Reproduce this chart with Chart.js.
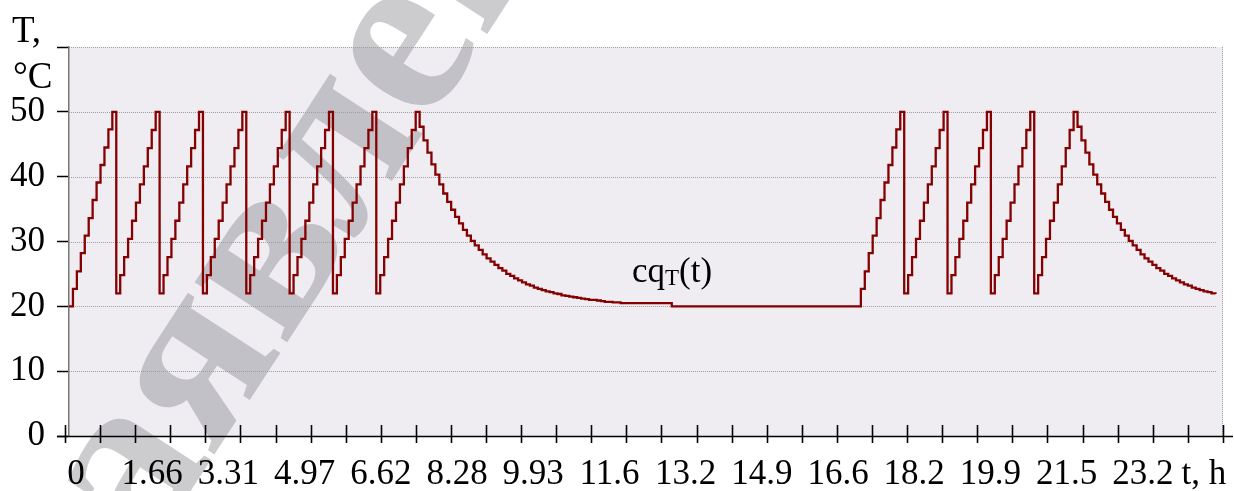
<!DOCTYPE html>
<html><head><meta charset="utf-8">
<script src="https://cdn.jsdelivr.net/npm/chart.js@4/dist/chart.umd.min.js"></script>
<style>html,body{margin:0;padding:0;background:#fff;overflow:hidden}</style>
</head><body>
<canvas id="c" width="1234" height="491"></canvas>
<script>
// ---- data ----
const STEP_H = 5 / 60;          // sample period, hours
const X_MAX_H = 24.41;          // right end of the time axis, hours
const xTickLabels = ['0','1.66','3.31','4.97','6.62','8.28','9.93','11.6','13.2','14.9','16.6','18.2','19.9','21.5','23.2'];
const xAxisName = 't, h';
const yTicks = [0, 10, 20, 30, 40, 50, 60];
const curveLabel = ['cq', 'T', '(t)'];
const WATERMARK = 'Заявление';

const firstRiseA = [20, 22.7, 25.4, 28.2, 30.9, 33.6, 36.4, 39.1, 41.8, 44.5, 47.3, 50];
const sawCycle   = [22, 24.8, 27.6, 30.4, 33.2, 36.0, 38.8, 41.6, 44.4, 47.2, 50];
const lastRise   = [22, 24.8, 27.6, 30.4, 33.2, 36.0, 38.8, 41.6, 44.4, 47.2];
const decayA = [50, 47.7, 45.6, 43.7, 41.9, 40.3, 38.8, 37.4, 36.1, 34.9,
  33.8, 32.8, 31.8, 30.9, 30.1, 29.4, 28.7, 28.0, 27.4, 26.9,
  26.4, 25.9, 25.5, 25.0, 24.7, 24.3, 24.0, 23.7, 23.4, 23.2,
  22.9, 22.7, 22.5, 22.3, 22.2, 22.0, 21.9, 21.7, 21.6, 21.5,
  21.4, 21.3, 21.2, 21.1, 21.0, 21.0, 20.9, 20.8, 20.7, 20.7,
  20.6, 20.6, 20.5, 20.5, 20.5, 20.5, 20.5, 20.5, 20.5, 20.5,
  20.5, 20.5, 20.5, 20.5, 20.5, 20.0];
const flatNight = [20, 20, 20, 20, 20, 20, 20, 20, 20, 20,
  20, 20, 20, 20, 20, 20, 20, 20, 20, 20,
  20, 20, 20, 20, 20, 20, 20, 20, 20, 20,
  20, 20, 20, 20, 20, 20, 20, 20, 20, 20,
  20, 20, 20, 20, 20, 20];
const firstRiseB = [20, 22.7, 25.4, 28.2, 30.9, 33.6, 36.4, 39.1, 41.8, 44.5, 47.3, 50];
const decayB = [50, 47.7, 45.6, 43.7, 41.9, 40.3, 38.8, 37.4, 36.1, 34.9,
  33.8, 32.8, 31.8, 30.9, 30.1, 29.4, 28.7, 28.0, 27.4, 26.9,
  26.4, 25.9, 25.5, 25.0, 24.7, 24.3, 24.0, 23.7, 23.4, 23.2,
  22.9, 22.7, 22.5, 22.3, 22.2, 22.0, 21.9];

const tempC = [].concat(
  firstRiseA, sawCycle, sawCycle, sawCycle, sawCycle, sawCycle, sawCycle,
  lastRise, decayA, flatNight,
  firstRiseB, sawCycle, sawCycle, sawCycle, lastRise, decayB
);
const points = tempC.map((v, i) => ({ x: i * STEP_H, y: v }));

// ---- axis geometry constants ----
const TICK_START_H = -0.085, TICK_STEP_H = 0.7422, TICK_COUNT = 34;
const LABEL_MIN = -0.0919, LABEL_MAX = 15.052, NAME_POS = 14.8;

const SERIF = '"Liberation Serif", "Times New Roman", serif';

const decor = {
  id: 'decor',
  beforeDraw(chart) {
    const { ctx, chartArea: a } = chart;
    ctx.save();
    ctx.fillStyle = '#ffffff';
    ctx.fillRect(0, 0, chart.width, chart.height);
    ctx.fillStyle = '#EFEDF2';
    ctx.fillRect(a.left, a.top, a.right - a.left, a.bottom - a.top);
    // watermark
    ctx.save();
    const fs = 240;
    ctx.font = 'bold ' + fs + 'px ' + SERIF;
    ctx.fillStyle = 'rgba(120,120,128,0.38)';
    ctx.translate(202, 372);
    ctx.rotate(-57 * Math.PI / 180);
    const pre = ctx.measureText('За').width, ya = ctx.measureText('я').width;
    ctx.textBaseline = 'alphabetic';
    ctx.fillText(WATERMARK, -(pre + ya / 2), 0.23 * fs);
    ctx.restore();
    // dotted grid
    const ys = chart.scales.y;
    ctx.strokeStyle = '#a0a0a0';
    ctx.lineWidth = 1;
    ctx.setLineDash([1, 1]);
    ys.ticks.forEach(t => {
      if (t.value <= 0) return;
      const y = Math.round(ys.getPixelForValue(t.value)) + 0.5;
      ctx.beginPath(); ctx.moveTo(a.left, y); ctx.lineTo(a.right - 6, y); ctx.stroke();
    });
    ctx.beginPath(); ctx.moveTo(a.right - 0.5, a.top); ctx.lineTo(a.right - 0.5, a.bottom); ctx.stroke();
    ctx.restore();
  },
  afterDraw(chart) {
    const { ctx, chartArea: a } = chart;
    const xs = chart.scales.x;
    ctx.save();
    ctx.strokeStyle = '#000';
    ctx.lineWidth = 1.6;
    const yb = a.bottom + 0.5;
    ctx.beginPath(); ctx.moveTo(57, yb); ctx.lineTo(1233, yb); ctx.stroke();
    for (let k = 0; k < TICK_COUNT; k++) {
      const px = Math.round(xs.getPixelForValue(TICK_START_H + k * TICK_STEP_H)) + 0.5;
      ctx.beginPath(); ctx.moveTo(px, a.bottom - 11); ctx.lineTo(px, a.bottom + 7); ctx.stroke();
    }
    ctx.fillStyle = '#000';
    ctx.textBaseline = 'alphabetic';
    ctx.textAlign = 'left';
    ctx.font = '37px ' + SERIF;
    ctx.fillText('T,', 12, 42);
    ctx.fillText('°C', 13, 88);
    ctx.font = '35px ' + SERIF;
    let x = 632;
    ctx.fillText(curveLabel[0], x, 282); x += ctx.measureText(curveLabel[0]).width;
    ctx.font = '23px ' + SERIF;
    ctx.fillText(curveLabel[1], x, 285); x += ctx.measureText(curveLabel[1]).width;
    ctx.font = '35px ' + SERIF;
    ctx.fillText(curveLabel[2], x, 282);
    ctx.restore();
  }
};

new Chart(document.getElementById('c'), {
  type: 'line',
  data: {
    datasets: [{
      data: points,
      xAxisID: 'x', yAxisID: 'y',
      borderColor: '#850000',
      borderWidth: 2.3,
      pointRadius: 0,
      stepped: true,
      fill: false
    }]
  },
  options: {
    responsive: false,
    animation: false,
    devicePixelRatio: 1,
    layout: { padding: { top: 47, right: 11, left: 0, bottom: 0 } },
    plugins: { legend: { display: false }, tooltip: { enabled: false } },
    scales: {
      x: { type: 'linear', min: 0, max: X_MAX_H, display: false },
      xl: {
        type: 'linear', position: 'bottom', min: LABEL_MIN, max: LABEL_MAX,
        afterBuildTicks(scale) {
          scale.ticks = xTickLabels.map((_, k) => ({ value: k })).concat([{ value: NAME_POS }]);
        },
        afterFit(scale) { scale.height = 55; scale.paddingLeft = 0; scale.paddingRight = 0; },
        grid: { display: false, drawTicks: false },
        border: { display: false },
        ticks: {
          autoSkip: false, maxRotation: 0, padding: 18, color: '#000',
          font: { family: SERIF, size: 35, lineHeight: 1.2 },
          callback(v, i) { return i < xTickLabels.length ? xTickLabels[i] : xAxisName; }
        }
      },
      y: {
        type: 'linear', position: 'left', min: 0, max: 60,
        afterBuildTicks(scale) { scale.ticks = yTicks.map(v => ({ value: v })); },
        afterFit(scale) { scale.width = 69; scale.paddingTop = 0; scale.paddingBottom = 0; },
        grid: { color: 'rgba(0,0,0,0)', tickColor: '#000', tickLength: 12, tickWidth: 1.5, drawOnChartArea: true },
        border: { display: true, color: '#777', width: 1.5 },
        ticks: {
          padding: 12, color: '#000',
          font: { family: SERIF, size: 35, lineHeight: 1.2 },
          callback(v) { return v === 60 ? '' : String(v); }
        }
      }
    }
  },
  plugins: [decor]
});
</script>
</body></html>
